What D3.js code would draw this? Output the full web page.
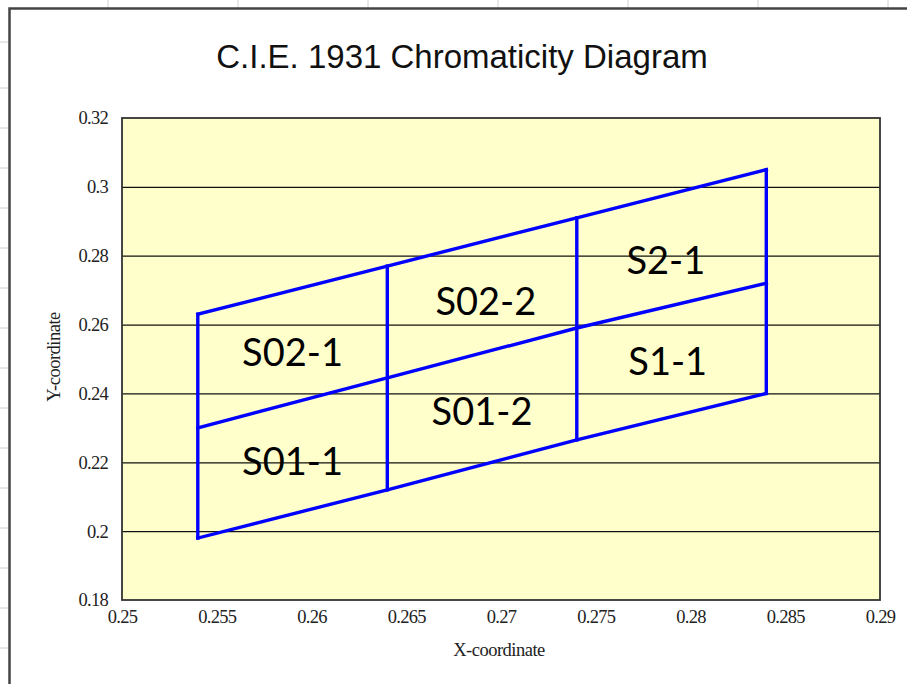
<!DOCTYPE html>
<html>
<head>
<meta charset="utf-8">
<script src="https://cdn.jsdelivr.net/npm/d3@7"></script>
<style>
  html, body { margin: 0; padding: 0; background: #fff; }
  svg { display: block; }
</style>
</head>
<body>
<svg id="chart"></svg>
<script>
// bin corner x positions and the three boundary lines (top / middle / bottom)
const binX = [0.254, 0.264, 0.274, 0.284];
const topY = [0.263, 0.277, 0.291, 0.305];
const midY = [0.230, 0.2445, 0.259, 0.272];
const botY = [0.198, 0.212, 0.2265, 0.240];

// bin names and where their labels sit
const binNames = ['S02-1', 'S01-1', 'S02-2', 'S01-2', 'S2-1', 'S1-1'];
const labelX = [0.259, 0.259, 0.2692, 0.2690, 0.2787, 0.2788];
const labelY = [0.2520, 0.2204, 0.2668, 0.2349, 0.2788, 0.2494];

const xTicks = [0.25, 0.255, 0.26, 0.265, 0.27, 0.275, 0.28, 0.285, 0.29];
const yTicks = [0.18, 0.2, 0.22, 0.24, 0.26, 0.28, 0.3, 0.32];

const width = 907, height = 684;
const plot = { left: 122, right: 880, top: 118, bottom: 600 };

const svg = d3.select('#chart')
    .attr('width', width)
    .attr('height', height);

// spreadsheet row/column stubs peeking out behind the chart
const colStubs = [108, 238, 368, 498, 628, 758, 888];
const rowStubs = [42, 88, 128, 168, 208, 248, 288, 328, 368, 408, 448, 488, 528, 568, 608, 648];
svg.selectAll('.colstub').data(colStubs).join('line')
    .attr('x1', d => d).attr('x2', d => d)
    .attr('y1', 0).attr('y2', 8)
    .attr('stroke', '#d0d0d0');
svg.selectAll('.rowstub').data(rowStubs).join('line')
    .attr('x1', 0).attr('x2', 8)
    .attr('y1', d => d).attr('y2', d => d)
    .attr('stroke', '#d0d0d0');

// chart frame
svg.append('rect')
    .attr('x', 9.5).attr('y', 8.5)
    .attr('width', 920).attr('height', 700)
    .attr('fill', '#fff')
    .attr('stroke', '#444')
    .attr('stroke-width', 2.5);

const x = d3.scaleLinear().domain([0.25, 0.29]).range([plot.left, plot.right]);
const y = d3.scaleLinear().domain([0.18, 0.32]).range([plot.bottom, plot.top]);

// title
svg.append('text')
    .attr('x', 462).attr('y', 68)
    .attr('text-anchor', 'middle')
    .attr('font-family', 'Liberation Sans, Arial, sans-serif')
    .attr('font-size', 33)
    .attr('fill', '#111')
    .text('C.I.E. 1931 Chromaticity Diagram');

// plot area
svg.append('rect')
    .attr('x', plot.left).attr('y', plot.top)
    .attr('width', plot.right - plot.left)
    .attr('height', plot.bottom - plot.top)
    .attr('fill', '#ffffcc');

// horizontal gridlines
svg.append('g')
    .attr('transform', `translate(${plot.left},0)`)
    .call(d3.axisLeft(y).tickValues(yTicks.slice(1, -1))
        .tickSize(-(plot.right - plot.left)).tickFormat(''))
    .call(g => g.select('.domain').remove())
    .selectAll('line')
    .attr('stroke', '#111')
    .attr('stroke-width', 1.2);

// plot border
svg.append('rect')
    .attr('x', plot.left).attr('y', plot.top)
    .attr('width', plot.right - plot.left)
    .attr('height', plot.bottom - plot.top)
    .attr('fill', 'none')
    .attr('stroke', '#333')
    .attr('stroke-width', 1.8);

// axes labels (no tick marks, Excel style)
const tickFont = 'Liberation Serif, Times New Roman, serif';
const yAxis = svg.append('g')
    .attr('transform', `translate(${plot.left},0)`)
    .call(d3.axisLeft(y).tickValues(yTicks).tickSize(0).tickPadding(14)
        .tickFormat(d => d3.format('')(+d.toFixed(3))));
yAxis.select('.domain').remove();
yAxis.selectAll('text')
    .attr('font-family', tickFont)
    .attr('font-size', 18.5)
    .attr('letter-spacing', -0.7)
    .attr('fill', '#222');

const xAxis = svg.append('g')
    .attr('transform', `translate(0,${plot.bottom})`)
    .call(d3.axisBottom(x).tickValues(xTicks).tickSize(0).tickPadding(10)
        .tickFormat(d => d3.format('')(+d.toFixed(3))));
xAxis.select('.domain').remove();
xAxis.selectAll('text')
    .attr('font-family', tickFont)
    .attr('font-size', 18.5)
    .attr('letter-spacing', -0.7)
    .attr('fill', '#222');

svg.append('text')
    .attr('x', 499).attr('y', 656)
    .attr('text-anchor', 'middle')
    .attr('font-family', tickFont)
    .attr('font-size', 18.5)
    .attr('letter-spacing', -0.5)
    .attr('fill', '#222')
    .text('X-coordinate');

svg.append('text')
    .attr('transform', 'translate(60,357) rotate(-90)')
    .attr('text-anchor', 'middle')
    .attr('font-family', tickFont)
    .attr('font-size', 18.5)
    .attr('letter-spacing', -0.5)
    .attr('fill', '#222')
    .text('Y-coordinate');

// bin boundaries
const line = d3.line().x(d => x(d[0])).y(d => y(d[1]));
const boundaries = [topY, midY, botY].map(ys => binX.map((bx, i) => [bx, ys[i]]));
binX.forEach((bx, i) => boundaries.push([[bx, botY[i]], [bx, topY[i]]]));

svg.append('g')
    .selectAll('path')
    .data(boundaries)
    .join('path')
    .attr('d', line)
    .attr('fill', 'none')
    .attr('stroke', '#0000ff')
    .attr('stroke-width', 3.4)
    .attr('stroke-linecap', 'square');

// bin labels
svg.append('g')
    .selectAll('text')
    .data(binNames)
    .join('text')
    .attr('x', (d, i) => x(labelX[i]))
    .attr('y', (d, i) => y(labelY[i]))
    .attr('dy', '0.36em')
    .attr('text-anchor', 'middle')
    .attr('font-family', 'Lato, Open Sans, sans-serif')
    .attr('font-size', 38)
    .attr('fill', '#000')
    .text(d => d);
</script>
</body>
</html>
